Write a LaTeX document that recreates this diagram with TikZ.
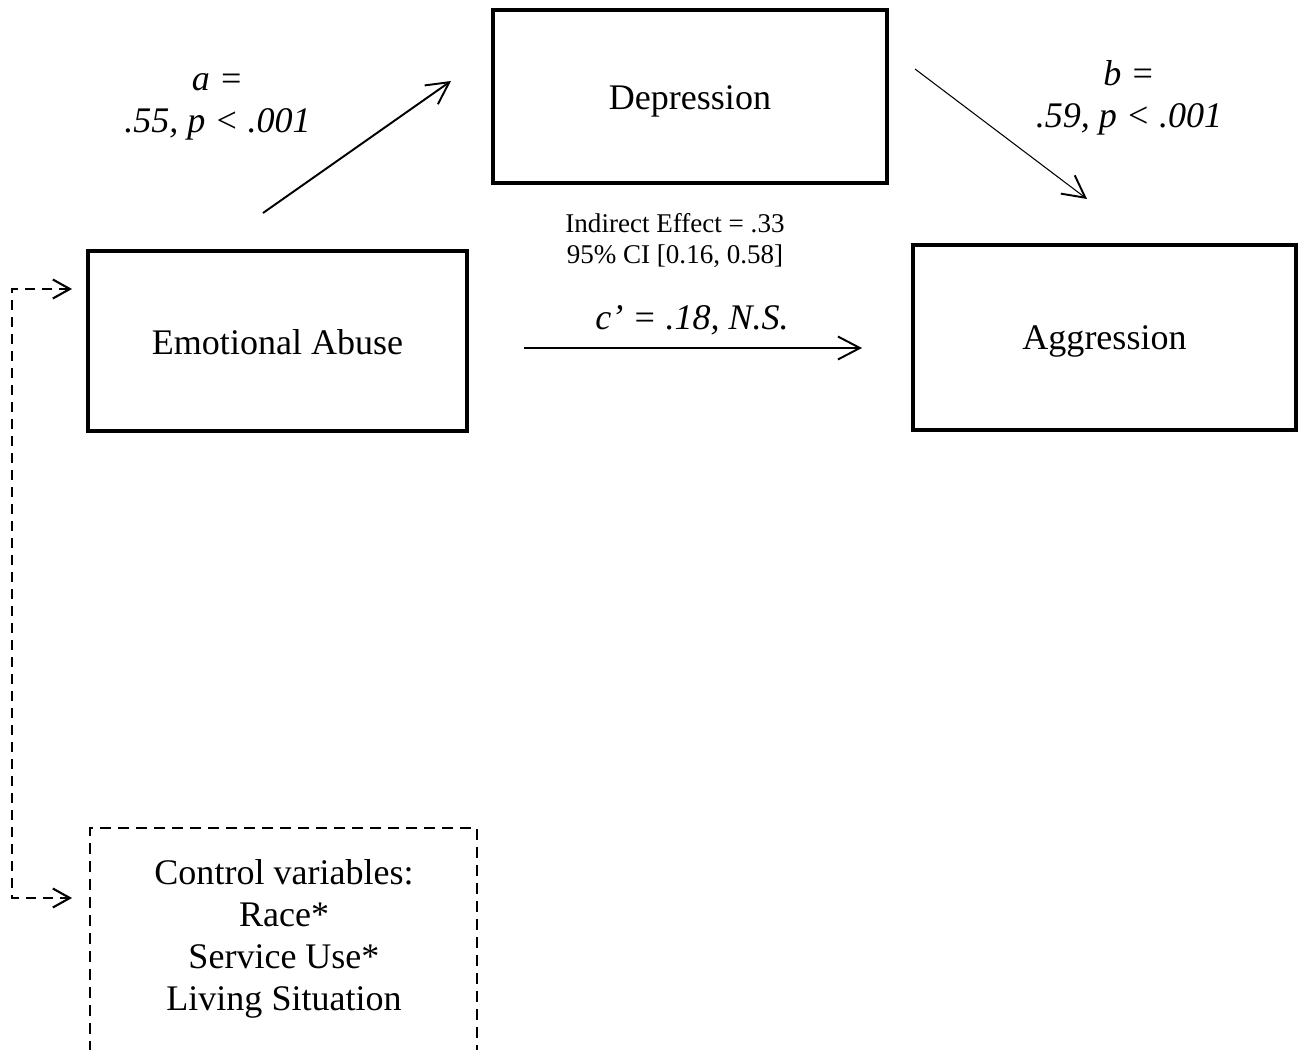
\documentclass[tikz,border=0pt]{standalone}
\usepackage{fontspec}
\setmainfont{Liberation Serif}
\usetikzlibrary{positioning,calc,arrows.meta}

\begin{document}
\begin{tikzpicture}[x=0.02cm,y=-0.02cm,
    varbox/.style={draw, line width=2.2pt, inner sep=0pt,
      font=\fontsize{20.5}{23.8}\selectfont},
    coef/.style={align=center, inner sep=0pt,
      font=\fontsize{20.5}{23.8}\selectfont\itshape},
    path/.style={line width=1.1pt, -{Straight Barb[length=0.44cm,width=0.46cm,line width=1.1pt]}},
    ctrl/.style={line width=1.2pt, dash pattern=on 0.2cm off 0.14cm,
      {Straight Barb[length=0.34cm,width=0.38cm,line width=1.2pt]}-{Straight Barb[length=0.34cm,width=0.38cm,line width=1.2pt]}},
  ]
    \useasboundingbox (0,0) rectangle (1301,1050);
    \clip (0,0) rectangle (1301,1050);

      \node[varbox, minimum width=7.88cm, minimum height=3.46cm] (dep) at (690,96.5) {};
      \node[varbox, minimum width=7.58cm, minimum height=3.6cm] (abuse) at (277.5,341) {};
      \node[varbox, minimum width=7.66cm, minimum height=3.7cm] (aggr) at (1104.5,337.5) {};
      \node[font=\fontsize{20.5}{23.8}\selectfont] at ($(dep)+(0,5)$) {Depression};
      \node[font=\fontsize{20.5}{23.8}\selectfont] at ($(abuse)+(0,1)$) {Emotional Abuse};
      \node[font=\fontsize{20.5}{23.8}\selectfont] at ($(aggr)+(0,4)$) {Aggression};

      \node[coef] (la) at (217.5,107) {a =\\.55, p < .001};
      \node[coef] (lb) at (1129,97.5) {b =\\.59, p < .001};
      \node[align=center, inner sep=0pt, font=\fontsize{15.4}{17.6}\selectfont] (ind) at (675,241)
        {Indirect Effect = .33\\95\% CI [0.16, 0.58]};
      \node[coef] (lc) at (692,320) {c’ = .18, N.S.};

      \coordinate (a1) at (263,213);
      \coordinate (a2) at (451,81);
      \coordinate (b1) at (915,69);
      \coordinate (b2) at (1087,199);
      \coordinate (c1) at (524,348);
      \coordinate (c2) at (862,348);

      \draw[path] (a1) -- (a2);
      \draw[path, line width=0.6pt] (b1) -- (b2);
      \draw[path] (c1) -- (c2);

      \node[align=center, inner sep=0pt, font=\fontsize{20.5}{23.8}\selectfont] (cv) at (284,939)
        {Control variables:\\Race*\\Service Use*\\Living Situation};
      \draw[line width=1.2pt, dash pattern=on 0.22cm off 0.14cm]
        (90,1070) -- (90,828) -- (477,828) -- (477,1070);

      \coordinate (ea-in) at (72,289);
      \coordinate (cv-in) at (72,898);
      \draw[ctrl] (ea-in) -- ++(-60,0) |- (cv-in);
\end{tikzpicture}
\end{document}
